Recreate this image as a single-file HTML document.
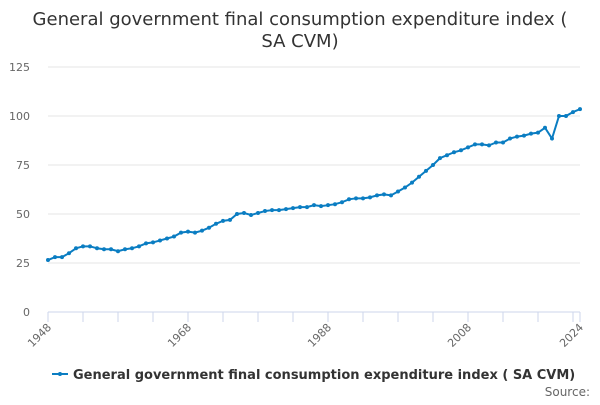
<!DOCTYPE html>
<html><head><meta charset="utf-8"><style>
body{margin:0;background:#fff;font-family:"Liberation Sans","DejaVu Sans",sans-serif}
svg text{font-family:"DejaVu Sans","Liberation Sans",sans-serif}
</style></head><body>
<svg id="c" width="600" height="400">
<text x="300" y="25" text-anchor="middle" font-size="18" fill="#333">General government final consumption expenditure index (</text>
<text x="300" y="47" text-anchor="middle" font-size="18" fill="#333">SA CVM)</text>
<g id="grid"></g><g id="xaxis"></g><g id="series"></g>
<g>
<line x1="52" x2="68" y1="374" y2="374" stroke="#0a7dc2" stroke-width="2"/>
<circle cx="60" cy="374" r="2" fill="#0a7dc2"/>
<text x="73" y="379" font-size="13" font-weight="bold" fill="#333">General government final consumption expenditure index ( SA CVM)</text>
</g>
<text x="590" y="396" text-anchor="end" font-size="12" fill="#666">Source:</text>
</svg>
<script>
const years=[];for(let y=1948;y<=2024;y++)years.push(y);
const values=[26.5,28,28,30,32.5,33.5,33.5,32.5,32,32,31,32,32.5,33.5,35,35.5,36.5,37.5,38.5,40.5,41,40.5,41.5,43,45,46.5,47,50,50.5,49.5,50.5,51.5,52,52,52.5,53,53.5,53.5,54.5,54,54.5,55,56,57.5,58,58,58.5,59.5,60,59.5,61.5,63.5,66,69,72,75,78.5,80,81.5,82.5,84,85.5,85.5,85,86.5,86.5,88.5,89.5,90,91,91.5,94,88.5,100,100,102,103.5];
const yTicks=[0,25,50,75,100,125];
const xLabels=[1948,1968,1988,2008,2024];
const NS="http://www.w3.org/2000/svg";
const X=v=>48+(v-1948)*(532/76), Y=v=>312-v*1.96;
function mk(t,a,p){const e=document.createElementNS(NS,t);for(const k in a)e.setAttribute(k,a[k]);p.appendChild(e);return e;}
const g=document.getElementById('grid');
yTicks.forEach(t=>{
 const l=mk('line',{x1:48,x2:580,y1:Y(t),y2:Y(t),stroke:t===0?'#ccd6eb':'#e6e6e6'},g);
 
 
 const tx=mk('text',{x:30,y:Y(t)+4,'text-anchor':'end','font-size':11,fill:'#666'},g);tx.textContent=t;
 
 
});
const xa=document.getElementById('xaxis');
const tks=[];for(let y=1948;y<2024;y+=5)tks.push(y);tks.push(2024);
tks.forEach(t=>{const l=mk('line',{x1:X(t),x2:X(t),y1:312,y2:322,stroke:'#ccd6eb'},xa);
 
 });
xLabels.forEach(t=>{const x=X(t);const tx=mk('text',{x:x+4,y:328,'text-anchor':'end','font-size':11,fill:'#666',transform:`rotate(-45 ${x+4} 328)`},xa);tx.textContent=t;
 
 });
const s=document.getElementById('series');
const p=mk('polyline',{points:values.map((v,i)=>X(years[i])+','+Y(v)).join(' '),fill:'none',stroke:'#0a7dc2','stroke-width':2},s);


values.forEach((v,i)=>{const c=mk('circle',{cx:X(years[i]),cy:Y(v),r:2,fill:'#0a7dc2'},s);
 
 });
</script>
</body></html>
